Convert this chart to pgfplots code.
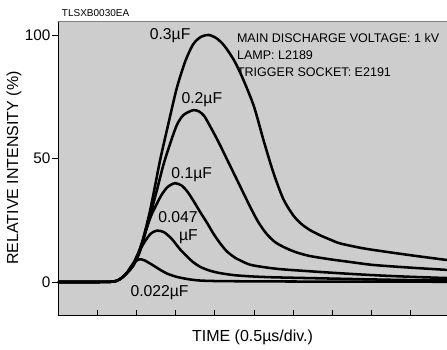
\documentclass[border=0pt]{standalone}
\usepackage{fontspec}
\setmainfont{Liberation Sans}
\usepackage{pgfplots}
\pgfplotsset{compat=1.18}
\definecolor{bg}{RGB}{205,205,205}

\begin{document}
\begin{tikzpicture}
\begin{axis}[
  scale only axis, width=291.75pt, height=220.5pt,
  at={(0,0)}, anchor=south west,
  xmin=0, xmax=9.923, ymin=-13.36, ymax=105.67,
  axis background/.style={fill=bg},
  axis line style={draw=none},
  xtick=\empty,
  ytick={0,50,100},
  ytick pos=left,
  tick align=outside,
  major tick length=4.5pt,
  tick style={black, line width=0.6pt},
  /pgf/number format/assume math mode=true,
  yticklabel style={font=\fontsize{11.5}{12}\selectfont, inner sep=1pt},
  xlabel={TIME (0.5\textmu s/div.)},
  ylabel={RELATIVE INTENSITY (\%)},
  every axis x label/.style={at={(axis description cs:0.5,-0.0748)}, anchor=center, font=\fontsize{12}{14}\selectfont},
  every axis y label/.style={at={(axis description cs:-0.1131,0.5)}, rotate=90, anchor=center, font=\fontsize{12}{14}\selectfont},
  clip=false,
  no markers,
  every axis plot post/.append style={black, line width=1.9pt, smooth, tension=0.45, line join=round},
]
% 0.3 uF
\addplot coordinates {(0,0) (1.0,0) (1.35,0.1) (1.5,0.5) (1.62,1.6) (1.75,3.5) (1.92,6.8) (2.1,13.5) (2.35,29) (2.6,49) (2.8,63) (3.03,78.5) (3.25,89.5) (3.45,96.3) (3.65,99.3) (3.85,100) (4.05,98.6) (4.25,95.5) (4.5,89.5) (4.73,81.8) (5.0,71) (5.25,57) (5.5,44) (5.75,33.5) (6.0,27) (6.2,23.6) (6.43,21) (6.7,18.8) (6.94,17.2) (7.2,15.6) (7.8,13.6) (8.47,12) (9.2,10.4) (9.923,8.9)};
% 0.2 uF
\addplot coordinates {(0,0) (1.0,0) (1.35,0.1) (1.5,0.5) (1.62,1.6) (1.75,3.5) (1.92,6.6) (2.1,12.8) (2.35,27) (2.52,37) (2.69,47.5) (2.85,55.5) (3.03,63.5) (3.2,67.6) (3.45,69.6) (3.6,69) (3.73,67.2) (3.9,62.5) (4.1,56.5) (4.3,50) (4.5,43.5) (4.7,37) (4.9,30.5) (5.1,24.5) (5.32,19.5) (5.55,16) (5.83,13.6) (6.1,11.9) (6.43,10.5) (6.94,9.2) (7.5,8) (8.04,6.9) (9.0,5.8) (9.923,4.9)};
% 0.1 uF
\addplot coordinates {(0,0) (1.0,0) (1.35,0.1) (1.5,0.5) (1.62,1.6) (1.75,3.5) (1.92,6.8) (2.1,14) (2.35,25.8) (2.5,31) (2.65,35.5) (2.8,38.5) (2.98,40) (3.15,39.1) (3.3,36.6) (3.45,33) (3.62,28.5) (3.8,24) (3.96,19.7) (4.13,15.8) (4.3,12.5) (4.5,10) (4.64,8.8) (4.9,7) (5.3,5.9) (5.75,5.1) (6.94,3.8) (8,2.8) (9.0,2.1) (9.923,1.6)};
% 0.047 uF
\addplot coordinates {(0,0) (1.0,0) (1.35,0.1) (1.5,0.5) (1.62,1.6) (1.75,3.5) (1.92,7.5) (2.05,11.8) (2.2,16) (2.36,19.5) (2.52,20.8) (2.7,20.2) (2.9,17.5) (3.11,13.3) (3.3,10.2) (3.45,8) (3.62,6.2) (3.85,4.7) (4.1,3.7) (4.47,2.8) (4.9,2.3) (5.5,1.9) (6.94,1.4) (8.5,0.9) (9.923,0.6)};
% 0.022 uF
\addplot coordinates {(0,0) (1.0,0) (1.35,0.1) (1.5,0.5) (1.62,1.6) (1.75,3.6) (1.85,6) (1.95,8) (2.07,9.2) (2.2,8.8) (2.4,7) (2.6,5) (2.77,3.5) (3.0,2.2) (3.3,1.2) (3.62,0.6) (4.2,0.35) (6,0.2) (9.923,0.1)};

\draw[black, line width=0.6pt] (rel axis cs:0,1) -- (rel axis cs:0,0) -- (rel axis cs:1,0);
\draw[gray, line width=0.5pt] (rel axis cs:0,1) -- (rel axis cs:1,1);

\begin{scope}[every node/.style={font=\fontsize{11.8}{13.5}\selectfont, inner sep=0pt}]
\node at (axis cs:2.86,99.6) {0.3\textmu F};
\node at (axis cs:3.67,73.7) {0.2\textmu F};
\node at (axis cs:3.41,43.3) {0.1\textmu F};
\node[anchor=east, align=right] at (axis cs:3.57,21.9) {0.047\\\textmu F};
\node at (axis cs:2.59,-4.5) {0.022\textmu F};
\end{scope}
\begin{scope}[every node/.style={font=\fontsize{9.4}{11}\selectfont, inner sep=0pt, anchor=base west}]
\node at (axis cs:4.56,96.9) {MAIN DISCHARGE VOLTAGE: 1 kV};
\node at (axis cs:4.56,90.2) {LAMP: L2189};
\node at (axis cs:4.56,83.4) {TRIGGER SOCKET: E2191};
\end{scope}
\node[anchor=west, inner sep=0pt, font=\fontsize{7.5}{9}\selectfont] at (axis cs:0.094,108.9) {TLSXB0030EA};
\end{axis}
\begin{axis}[
  scale only axis, width=291.75pt, height=220.5pt,
  at={(0,0)}, anchor=south west,
  xmin=0, xmax=9.923, ymin=-13.36, ymax=105.67,
  axis line style={draw=none},
  xtick={1,2,3,4,5,6,7,8,9}, xticklabels={},
  xtick pos=left,
  ytick=\empty,
  tick align=inside,
  major tick length=3.75pt,
  tick style={black, line width=0.6pt},
]
\end{axis}
\pgfresetboundingbox
\path[use as bounding box] (-43.5pt,-26.25pt) rectangle (291.75pt,236.25pt);
\end{tikzpicture}
\end{document}
